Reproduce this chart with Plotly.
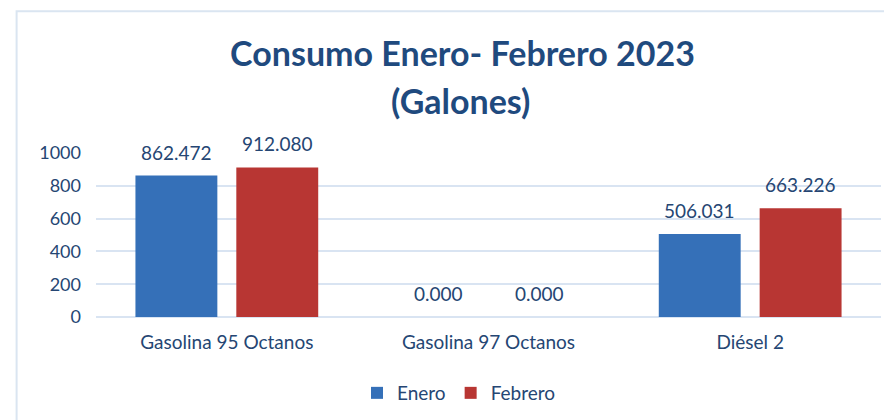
import plotly.graph_objects as go

categories = ["Gasolina 95 Octanos", "Gasolina 97 Octanos", "Diésel 2"]
enero = [862.472, 0.0, 506.031]
febrero = [912.080, 0.0, 663.226]
series_names = ["Enero", "Febrero"]
y_ticks = [0, 200, 400, 600, 800, 1000]

TEXT = "#254673"
TITLE = "#1F4A7E"
GRID = "#D9E4F2"
FONT = "Lato"

fig = go.Figure()
fig.add_trace(go.Bar(name=series_names[0], x=categories, y=enero,
                     marker=dict(color="#3570B8", line=dict(width=0))))
fig.add_trace(go.Bar(name=series_names[1], x=categories, y=febrero,
                     marker=dict(color="#B83633", line=dict(width=0))))

# value labels above the bars
shift = 50.5
for vals, xs in ((enero, -shift), (febrero, shift)):
    for c, v in zip(categories, vals):
        fig.add_annotation(x=c, y=v, xref="x", yref="y", text=f"{v:.3f}",
                           showarrow=False, xshift=xs, yshift=10,
                           yanchor="bottom", xanchor="center",
                           font=dict(family=FONT, size=19, color=TEXT))

fig.add_annotation(text="<b>(Galones)</b>", xref="paper", yref="paper",
                   x=(460 - 95.5) / 786, y=(317.3 - 100) / 164.3,
                   xanchor="center", yanchor="middle", showarrow=False,
                   font=dict(family=FONT, size=34, color=TITLE))

# chart border
fig.add_shape(type="rect", xref="paper", yref="paper",
              x0=(16 - 95.5) / 786, x1=1.05, y0=-1.0, y1=(317.3 - 11) / 164.3,
              line=dict(color="#DAE5F1", width=2), fillcolor="rgba(0,0,0,0)",
              layer="below")

fig.update_layout(
    width=884, height=420,
    paper_bgcolor="white", plot_bgcolor="white",
    margin=dict(l=95.5, r=2.5, t=153, b=102.7),
    barmode="group", bargap=0.229, bargroupgap=0.188,
    title=dict(text="<b>Consumo Enero- Febrero 2023</b>",
               x=462.5 / 884, xanchor="center", xref="container",
               y=1 - 54 / 420, yanchor="middle", yref="container",
               font=dict(family=FONT, size=34, color=TITLE)),
    font=dict(family=FONT, size=18, color=TEXT),
    showlegend=True,
    legend=dict(orientation="h", xref="container", yref="container",
                x=459 / 884, xanchor="center", y=1 - 393 / 420, yanchor="middle",
                font=dict(family=FONT, size=19, color=TEXT),
                itemwidth=30, traceorder="normal"),
    xaxis=dict(showgrid=False, showline=False, ticks="",
               ticklabelstandoff=12,
               tickfont=dict(family=FONT, size=19, color=TEXT)),
    yaxis=dict(range=[0, 1000], tickvals=y_ticks, showgrid=True,
               gridcolor=GRID, gridwidth=1.5, zeroline=True, zerolinecolor=GRID,
               zerolinewidth=1.5, showline=False, ticks="",
               ticklabelstandoff=14,
               tickfont=dict(family=FONT, size=18, color=TEXT)),
)

fig.write_html("out.html", config={"displayModeBar": False},
               post_script="document.body.style.margin='0';")
